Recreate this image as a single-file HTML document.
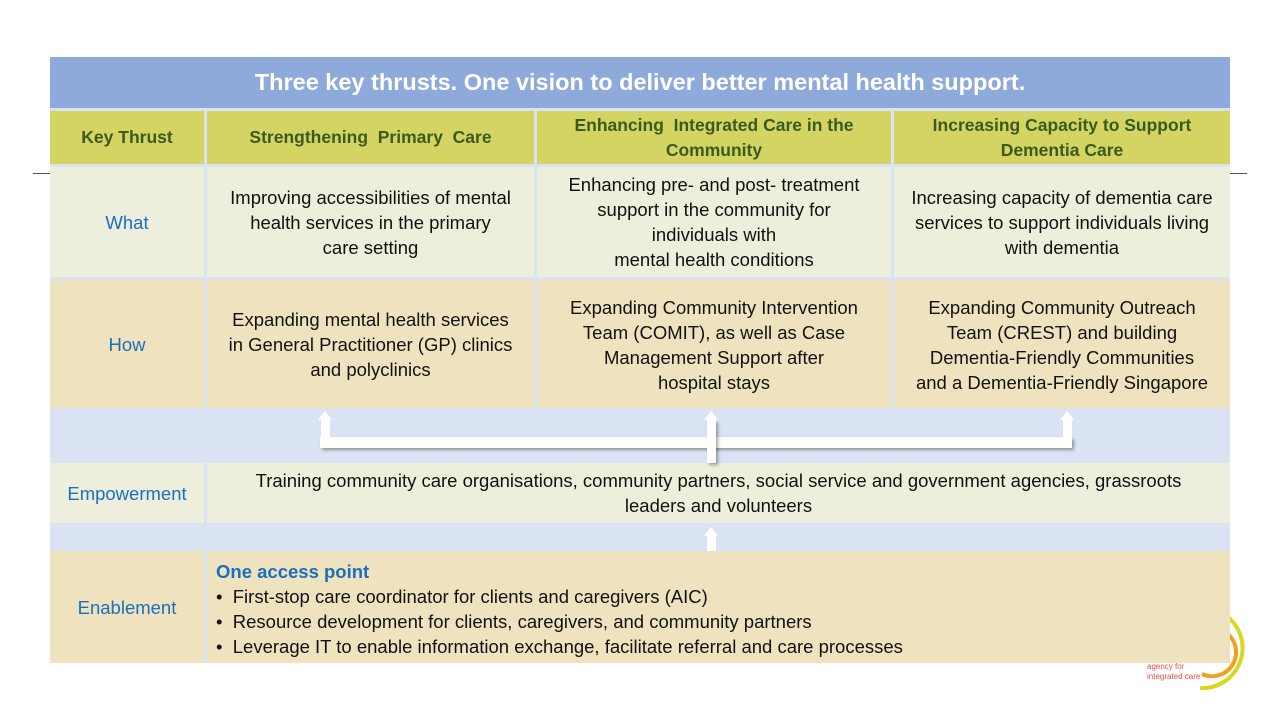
<!DOCTYPE html>
<html><head><meta charset="utf-8"><style>
body{margin:0;width:1280px;height:720px;background:#fff;position:relative;overflow:hidden;font-family:"Liberation Sans",sans-serif}
.b{position:absolute;box-sizing:border-box;display:flex;align-items:center;justify-content:center;text-align:center;font-size:18.5px;color:#111;line-height:25px;white-space:nowrap}
.g{background:#d3d462;color:#3b5a1f;font-weight:bold;font-size:17.5px}
.w{background:#eeeedc}
.h{background:#efe3bf}
.l{color:#1a6fbf}
.a{position:absolute;background:#fff;box-shadow:2px 2px 3px rgba(0,0,0,.35)}
.t{position:absolute;width:0;height:0;border-left:7px solid transparent;border-right:7px solid transparent;border-bottom:9px solid #fff}
</style></head><body>
<svg style="position:absolute;left:1140px;top:600px" width="140" height="100">
<path d="M85 15 A40 40 0 0 1 60 88" fill="none" stroke="#d8d820" stroke-width="4"/>
<path d="M85 32 A24 24 0 0 1 62 74" fill="none" stroke="#f0a020" stroke-width="4"/>
<text x="7" y="69" font-size="8" fill="#e05040" font-family="Liberation Sans">agency for</text>
<text x="7" y="79" font-size="8" fill="#e05040" font-family="Liberation Sans">integrated care</text>
</svg>
<div style="position:absolute;left:33px;top:173px;width:1214px;height:1px;background:#6a5048"></div>
<div style="position:absolute;left:50px;top:57px;width:1180px;height:606px;background:#dae3f3"></div>
<div class="b" style="left:50px;top:57px;width:1180px;height:51px;background:#8eaadb;color:#fff;font-weight:bold;font-size:23.5px">Three key thrusts. One vision to deliver better mental health support.</div>
<div class="b g" style="left:50px;top:111px;width:154px;height:53px">Key Thrust</div>
<div class="b g" style="left:207px;top:111px;width:327px;height:53px">Strengthening&nbsp; Primary&nbsp; Care</div>
<div class="b g" style="left:537px;top:111px;width:354px;height:53px">Enhancing&nbsp; Integrated Care in the<br>Community</div>
<div class="b g" style="left:894px;top:111px;width:336px;height:53px">Increasing Capacity to Support<br>Dementia Care</div>
<div class="b w l" style="left:50px;top:167px;width:154px;height:110px">What</div>
<div class="b w" style="left:207px;top:167px;width:327px;height:110px">Improving accessibilities of mental<br>health services in the primary<br>care setting</div>
<div class="b w" style="left:537px;top:167px;width:354px;height:110px">Enhancing pre- and post- treatment<br>support in the community for<br>individuals with<br>mental health conditions</div>
<div class="b w" style="left:894px;top:167px;width:336px;height:110px">Increasing capacity of dementia care<br>services to support individuals living<br>with dementia</div>
<div class="b h l" style="left:50px;top:280px;width:154px;height:128px">How</div>
<div class="b h" style="left:207px;top:280px;width:327px;height:128px">Expanding mental health services<br>in General Practitioner (GP) clinics<br>and polyclinics</div>
<div class="b h" style="left:537px;top:280px;width:354px;height:128px;align-items:flex-start;padding-top:15px">Expanding Community Intervention<br>Team (COMIT), as well as Case<br>Management Support after<br>hospital stays</div>
<div class="b h" style="left:894px;top:280px;width:336px;height:128px;align-items:flex-start;padding-top:15px">Expanding Community Outreach<br>Team (CREST) and building<br>Dementia-Friendly Communities<br>and a Dementia-Friendly Singapore</div>
<div class="b w l" style="left:50px;top:463px;width:154px;height:60px">Empowerment</div>
<div class="b w" style="left:207px;top:463px;width:1023px;height:60px">Training community care organisations, community partners, social service and government agencies, grassroots<br>leaders and volunteers</div>
<div class="b h l" style="left:50px;top:551px;width:154px;height:112px">Enablement</div>
<div class="b h" style="left:207px;top:551px;width:1023px;height:112px;display:block;text-align:left;padding:8px 0 0 9px">
<div style="color:#1a6fbf;font-weight:bold">One access point</div>
<div>•&nbsp; First-stop care coordinator for clients and caregivers (AIC)</div>
<div>•&nbsp; Resource development for clients, caregivers, and community partners</div>
<div>•&nbsp; Leverage IT to enable information exchange, facilitate referral and care processes</div></div>
<div class="a" style="left:320px;top:437px;width:752px;height:11px"></div>
<div class="a" style="left:321px;top:420px;width:9px;height:20px;box-shadow:none"></div>
<div class="a" style="left:707px;top:420px;width:9px;height:43px"></div>
<div class="a" style="left:1063px;top:420px;width:9px;height:20px;box-shadow:none"></div>
<div class="t" style="left:318px;top:411px"></div>
<div class="t" style="left:704px;top:411px"></div>
<div class="t" style="left:1060px;top:411px"></div>
<div class="a" style="left:707px;top:536px;width:9px;height:15px;box-shadow:none"></div>
<div class="t" style="left:704px;top:527px"></div>
</body></html>
